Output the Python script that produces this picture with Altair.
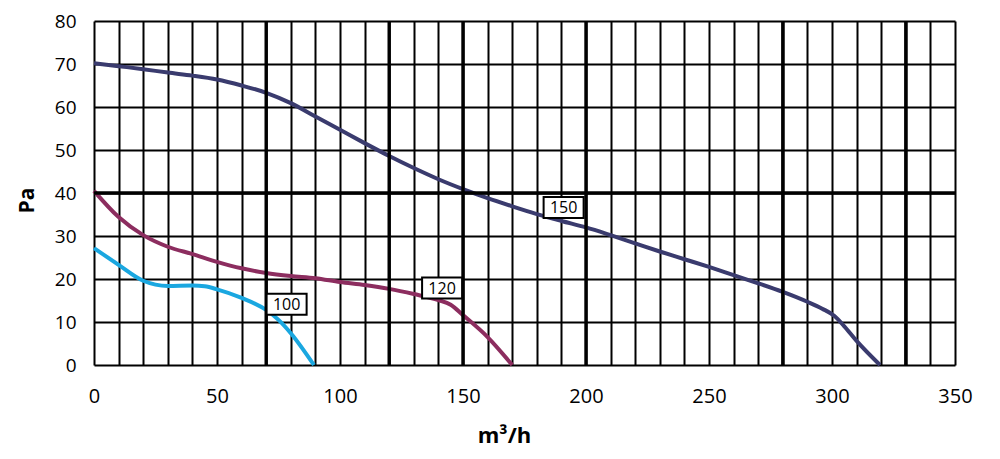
import altair as alt
import pandas as pd

# Series data (x in m³/h, y in Pa)
s100_x = [0, 10, 20, 25, 30, 40, 45, 50, 60, 70, 75, 80, 89.4]
s100_y = [27.2, 23.3, 19.6, 18.7, 18.4, 18.5, 18.3, 17.6, 15.6, 12.8, 10.5, 7.4, 0]

s120_x = [0, 10, 20, 30, 40, 50, 60, 70, 80, 90, 100, 110, 120, 130, 140, 145, 150, 160, 170]
s120_y = [40.5, 34.4, 30.2, 27.5, 25.8, 24.0, 22.5, 21.4, 20.7, 20.2, 19.3, 18.6, 17.7, 16.5, 15.1, 14.0, 11.6, 6.5, 0]

s150_x = [0, 10, 20, 30, 40, 50, 60, 70, 80, 90, 100, 110, 120, 130, 140, 150, 160, 170,
          180, 190, 200, 210, 220, 230, 240, 250, 260, 270, 280, 290, 296, 301, 305, 310, 319.5]
s150_y = [70.2, 69.5, 68.8, 68.0, 67.3, 66.4, 65.0, 63.3, 60.9, 57.8, 54.7, 51.6, 48.6, 45.8,
          43.2, 40.9, 38.8, 36.9, 35.1, 33.5, 32.0, 30.2, 28.3, 26.4, 24.6, 22.8, 20.9, 19.0,
          17.0, 14.7, 13.1, 11.4, 9.0, 5.6, 0]

series_names = ["100", "120", "150"]
series_colors = ["#1AA7E0", "#8C2D5F", "#3A3B6E"]

# Curve label positions
label_text = ["100", "120", "150"]
label_x = [78.3, 141.5, 190.9]
label_y = [14.1, 17.9, 36.6]

# Axis ticks / grid
x_ticks = list(range(0, 351, 10))
y_ticks = list(range(0, 81, 10))
x_heavy = [70, 120, 150, 200, 280, 330]
y_heavy = [40]

FONT = "Open Sans"

rows = []
for name, xs, ys in zip(series_names, [s100_x, s120_x, s150_x], [s100_y, s120_y, s150_y]):
    for i, (a, b) in enumerate(zip(xs, ys)):
        rows.append({"series": name, "q": a, "p": b, "i": i})
curves = pd.DataFrame(rows)
labels = pd.DataFrame({"t": label_text, "q": label_x, "p": label_y})

xscale = alt.Scale(domain=[0, 350], nice=False, zero=False)
yscale = alt.Scale(domain=[0, 80], nice=False, zero=False)

xaxis = alt.Axis(
    values=x_ticks, tickCount=len(x_ticks),
    labelExpr="datum.value % 50 === 0 ? datum.label : ''",
    grid=True, gridColor="black", gridWidth=2, gridOpacity=1,
    ticks=False, domain=False,
    labelFont=FONT, labelFontSize=20, labelColor="black", labelPadding=21,
    labelFlush=False, labelOverlap=False,
    title="m³/h", titleFont=FONT, titleFontSize=22, titleFontWeight="bold",
    titleColor="black", titleX=410, titleY=77, titleBaseline="alphabetic",
    titleAlign="center",
)
yaxis = alt.Axis(
    values=y_ticks, tickCount=len(y_ticks),
    grid=True, gridColor="black", gridWidth=2, gridOpacity=1,
    ticks=False, domain=False,
    labelFont=FONT, labelFontSize=19, labelColor="black", labelPadding=18,
    labelFlush=False, labelOverlap=False,
    title="Pa", titleFont=FONT, titleFontSize=21, titleFontWeight="bold",
    titleColor="black", titleAngle=270, titleX=-61, titleY=179,
    titleBaseline="alphabetic", titleAlign="center",
)

lines = alt.Chart(curves).mark_line(strokeWidth=4, interpolate="monotone").encode(
    x=alt.X("q:Q", scale=xscale, axis=xaxis),
    y=alt.Y("p:Q", scale=yscale, axis=yaxis),
    color=alt.Color("series:N", scale=alt.Scale(domain=series_names, range=series_colors), legend=None),
    order="i:Q",
    detail="series:N",
)

vrules = alt.Chart(pd.DataFrame({"q": x_heavy})).mark_rule(color="black", strokeWidth=3.4).encode(
    x=alt.X("q:Q", scale=xscale)
)
hrules = alt.Chart(pd.DataFrame({"p": y_heavy})).mark_rule(color="black", strokeWidth=3.4).encode(
    y=alt.Y("p:Q", scale=yscale)
)

boxes = alt.Chart(labels).mark_point(
    shape="M-1,-0.525L1,-0.525L1,0.525L-1,0.525Z",
    size=1600, filled=True, fill="white", stroke="black", strokeWidth=2, opacity=1,
).encode(
    x=alt.X("q:Q", scale=xscale),
    y=alt.Y("p:Q", scale=yscale),
)

texts = alt.Chart(labels).mark_text(
    font=FONT, fontSize=16, color="black", align="center", baseline="middle", dy=0.5
).encode(
    x=alt.X("q:Q", scale=xscale),
    y=alt.Y("p:Q", scale=yscale),
    text="t:N",
)

chart = alt.layer(lines, vrules, hrules, boxes, texts).properties(
    width=861, height=344,
    padding={"left": 86, "top": 13, "right": 30, "bottom": 84},
    autosize=alt.AutoSizeParams(type="none"),
    background="white",
).configure_view(stroke=None)

chart.save("out.html", embed_options={"renderer": "svg", "actions": False})
